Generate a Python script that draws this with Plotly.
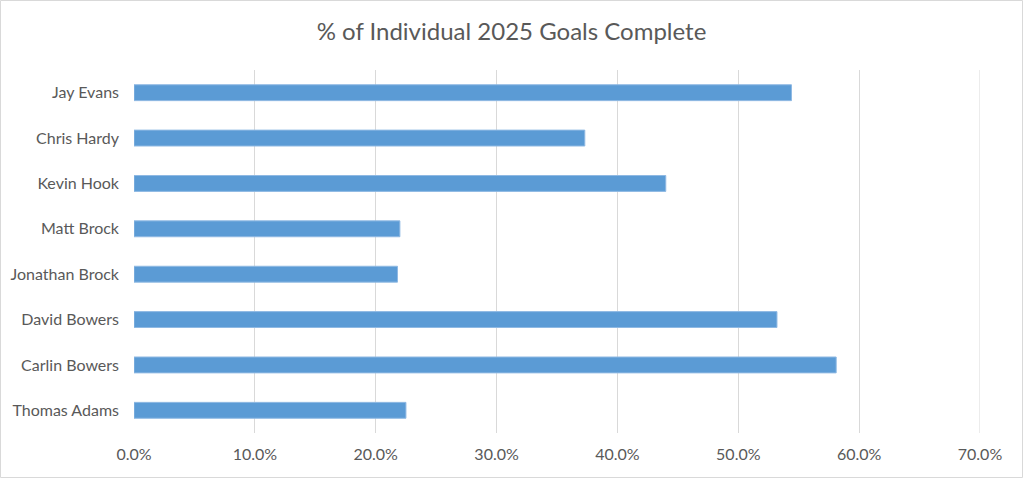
import plotly.graph_objects as go

names = ["Jay Evans", "Chris Hardy", "Kevin Hook", "Matt Brock",
         "Jonathan Brock", "David Bowers", "Carlin Bowers", "Thomas Adams"]
pct_complete = [0.544, 0.373, 0.440, 0.220, 0.218, 0.532, 0.581, 0.225]
x_ticks = [0.0, 0.1, 0.2, 0.3, 0.4, 0.5, 0.6, 0.7]
title_text = "% of Individual 2025 Goals Complete"

W, H = 1023, 478
ML, MR, MT, MB = 134, 43, 70, 45
PW, PH = W - ML - MR, H - MT - MB

fig = go.Figure(go.Bar(
    x=pct_complete, y=names, orientation="h",
    marker=dict(color="#5b9bd5", line=dict(color="#8fb9e3", width=1)),
    width=0.35,
))

fig.update_layout(
    width=W, height=H,
    margin=dict(l=ML, r=MR, t=MT, b=MB),
    paper_bgcolor="white", plot_bgcolor="white",
    font=dict(family="Lato, Open Sans, sans-serif", color="#595959", size=16),
    title=dict(text=title_text, x=0.5, xref="container", xanchor="center",
               y=1 - 32 / H, yanchor="middle",
               font=dict(size=24, color="#595959")),
    showlegend=False,
    bargap=0.65,
)
fig.update_xaxes(
    range=[0, 0.7], tickvals=x_ticks, tickformat=".1%",
    showgrid=True, gridcolor="#d9d9d9", gridwidth=1,
    zeroline=False, showline=False, ticks="",
    tickfont=dict(size=16, color="#595959"), ticklabelstandoff=10,
)
fig.update_yaxes(
    categoryorder="array", categoryarray=names, autorange="reversed",
    showgrid=False, zeroline=False, showline=False, ticks="",
    tickfont=dict(size=16, color="#595959"), ticklabelstandoff=14,
)
# gridline at the right edge of the value axis (Plotly omits the edge gridline)
fig.add_shape(
    type="line", xref="x", yref="paper",
    x0=x_ticks[-1], x1=x_ticks[-1], y0=0, y1=1,
    line=dict(color="#d9d9d9", width=1), layer="below",
)
fig.add_shape(
    type="rect", xref="paper", yref="paper",
    x0=(0.5 - ML) / PW, x1=(W - 0.5 - ML) / PW,
    y0=(0.5 - MB) / PH, y1=(H - 0.5 - MB) / PH,
    line=dict(color="#d9d9d9", width=1), layer="below",
)

fig.write_html(
    "out.html",
    config={"displayModeBar": False},
    post_script="document.body.style.margin='0';document.body.style.overflow='hidden';",
)
